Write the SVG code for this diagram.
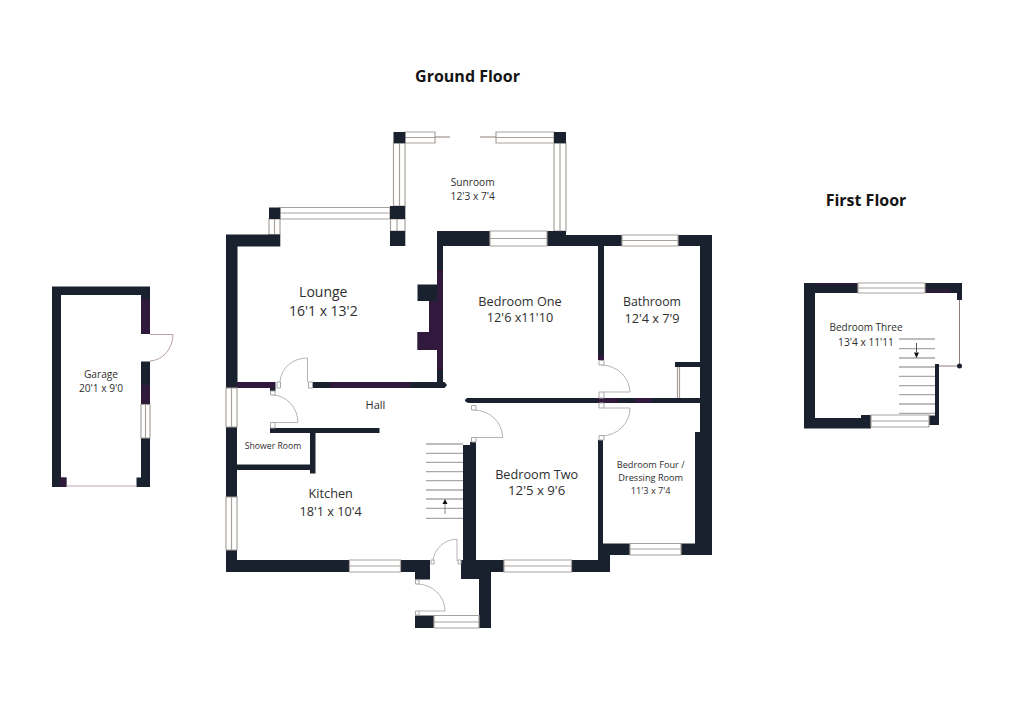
<svg xmlns="http://www.w3.org/2000/svg" width="1020" height="720" viewBox="0 0 1020 720">
<style>
.w{fill:#19202e}
.p{fill:#35193f}
.g{fill:#fff;stroke:#a9a29c;stroke-width:1.2}
.m{fill:none;stroke:#a9a29c;stroke-width:1.2}
.d{fill:none;stroke:#b5b5b5;stroke-width:1}
.s{fill:#fff;stroke:#a9a9a9;stroke-width:1}
.st{stroke:#a8a8a8;stroke-width:1.3;fill:none}
.b{stroke:#8d7f78;stroke-width:1;fill:none}
text{font-family:"Open Sans","Noto Sans","Liberation Sans",sans-serif;fill:#2e2e2e;text-anchor:middle}
.t{font-size:16px;font-weight:700;fill:#141414}
.l{font-size:12.7px}
.n{font-size:10.2px}
.x{font-size:9.2px}
</style>
<rect width="1020" height="720" fill="#fff"/>
<g id="sunroom">
<path class="g" d="M405 132H435V143H405ZM496 132H554V143H496ZM393.500 143H405V206H393.500ZM554 143H566V231H554ZM280 207.500H390V219H280ZM269 219H280V234.500H269ZM390.500 219H405V231H390.500Z"/>
<path class="m" d="M405 137.500H435M496 137.500H554M399.500 143V206M560 143V231M280 213H390M274.500 219V234.500M397 219V231"/>
<path class="b" d="M435 137H450M480 137H496"/>
<path class="w" d="M393.500 132H405.300V143.300H393.500ZM554 132H566V143.300H554ZM390 206H405.300V219H390ZM390 231H405.300V246H390ZM269 207.500H280.300V219H269Z"/>
</g>
<g id="ground-walls">
<path class="w" d="M226 234.500H280.300V246.500H237.500V388H226ZM437 231H490V246H443V382H444.500L447 385L444.500 388H312.500V382H437ZM547 231H566V235H622V246H547ZM678 235H712V555H681V543.500H695V432H700V246H678ZM598 246H604V360H598ZM675 362H700V367H675ZM417.500 284.500H437V350H417.500V332H429V301H417.500ZM237 382H275.500V391H270V388H237ZM270 428H379.500V433H315.500V473.500H310V470H237V497H226V427H237V464.500H310V433H270ZM226 550H237V560H349.500V572H226ZM400.500 560H430V579.500H415V572H400.500ZM461 560H463V445H470V442H476V560H504V572H491V628H479V579H461ZM415 615.500H434V628H415ZM467 398H702V403H469Q465 402 465 400.500Q465 399 467 398ZM598 440H603V543.500H630V555H610V572H571.500V560H598Z"/>
<path class="p" d="M429 301H437V350H417.500V332H429ZM237 382H275V388H237ZM330 382H410V388H330ZM598 398H618V403H598ZM635 398H652V403H635ZM437 270H443V370H437ZM598 355H604V360H598Z" opacity=".85"/>
</g>
<g id="ground-windows">
<path class="g" d="M490 231H547V246H490ZM622 235H678V246H622ZM226 388H237V427H226ZM226 497H237V550H226ZM349.500 560H400.500V572H349.500ZM434 615.500H479V628H434ZM504 560H571.500V572H504ZM630 543.500H681V555H630Z"/>
<path class="m" d="M490 238.500H547M622 240.500H678M231.500 388V427M231.500 497V550M349.500 566H400.500M434 622H479M504 566H571.500M630 549H681M677.500 367V398M679.500 367V398"/>
</g>
<g id="ground-doors">
<path class="d" d="M307.500 382V358A27 25 0 0 0 280 382M272.500 395A26 28 0 0 1 298 422.500H275M457 561V539A25 24 0 0 0 433 561M417 584A28 27 0 0 1 445 611H419M601.500 365A29 28 0 0 1 630 392H604M630 408H604M630 408A29 28 0 0 1 601.500 436M474 410A29 28 0 0 1 502.700 437.500H476"/>
<path class="s" d="M277 382H280.500V388H277ZM308.500 382H312.500V388H308.500ZM270.500 391H275V395H270.500ZM270.500 422.500H275V428H270.500ZM431 560H434V564H431ZM458 560H461V564H458ZM415.500 580H419V584H415.500ZM415.500 611H419V615H415.500ZM599 360.500H604V365H599ZM599 392H604V398H599ZM599 403H604V408H599ZM599 435.500H604V440H599ZM471.500 405.500H476V410H471.500ZM471.500 437.500H476V442H471.500Z"/>
</g>
<g id="ground-stairs">
<path class="st" d="M426 444H463M426 453.300H463M426 462.300H463M426 471.700H463M426 480.700H463M426 490H463M426 499H463M426 508.300H463M426 518.300H463"/>
<path d="M445 514V503" stroke="#888" stroke-width="1" fill="none"/>
<path d="M445 499L447.500 504H442.500Z" fill="#111"/>
</g>
<g id="garage">
<path class="w" d="M52 286.500H150V334H141V295H61V477.500H66.500V487H52ZM141 361.500H150V404.500H141ZM141 438H150V487H136.500V477.500H141Z"/>
<path class="p" d="M141 299H150V334H141ZM141 385H150V404.500H141ZM60 477.500H66.500V487H60Z" opacity=".8"/>
<path class="g" d="M141 404.500H150V438H141Z"/>
<path class="m" d="M145.500 404.500V438"/>
<path d="M66.500 486H136.500" stroke="#b9a9b6" stroke-width="1" fill="none"/>
<path d="M150 334.500H173A24 27 0 0 1 150 361" stroke="#b79fae" stroke-width="1" fill="none"/>
</g>
<g id="first-floor">
<path class="w" d="M804 283H858V293H815V418H861V415H871V428.500H804ZM925 283H962V300H957V293H925ZM929 415.500H935V364H939V425H929Z"/>
<path class="p" d="M815 283H858V285H815ZM925 289H950V293H925Z" opacity=".7"/>
<path class="g" d="M858 283H925V293H858ZM871 415H929V427H871Z"/>
<path class="m" d="M858 288H925M871 421H929"/>
<path class="b" d="M959.500 300V365M939 366H957" stroke="#a9a29c"/>
<circle cx="959.500" cy="366" r="2.500" fill="#19202e"/>
<path class="st" d="M899 339H935M899 348.700H935M899 358H935M899 367H935M899 376.300H935M899 385.700H935M899 394.700H935M899 404H935M899 413.300H935"/>
<path d="M916.500 343V352" stroke="#555" stroke-width="1" fill="none"/>
<path d="M916.500 358L914 352.500H919Z" fill="#111"/>
</g>
<g id="labels">
<text class="t" x="467.500" y="81.500">Ground Floor</text>
<text class="t" x="866" y="206">First Floor</text>
<text class="n" x="472.700" y="186">Sunroom</text>
<text class="n" x="472.700" y="200">12'3 x 7'4</text>
<text class="l" x="520" y="305.700">Bedroom One</text>
<text class="l" x="520" y="322">12'6 x11'10</text>
<text class="l" x="652" y="306" font-size="12.300" style="font-size:12.300px">Bathroom</text>
<text class="l" x="652" y="322.700">12'4 x 7'9</text>
<text class="l" x="323.300" y="297.300" style="font-size:14px">Lounge</text>
<text class="l" x="323.300" y="315.700" style="font-size:14px">16'1 x 13'2</text>
<text class="n" x="375.500" y="409.300" style="font-size:11px">Hall</text>
<text class="x" x="273" y="449.300" style="font-size:8.700px">Shower Room</text>
<text class="l" x="330.700" y="498.300">Kitchen</text>
<text class="l" x="330.700" y="515.700">18'1 x 10'4</text>
<text class="l" x="536.700" y="478.700">Bedroom Two</text>
<text class="l" x="536.700" y="495.300" style="font-size:13.200px">12'5 x 9'6</text>
<text class="x" x="650.700" y="467.700">Bedroom Four /</text>
<text class="x" x="650.700" y="481.300">Dressing Room</text>
<text class="x" x="650.700" y="494.300">11'3 x 7'4</text>
<text class="n" x="101" y="378.300">Garage</text>
<text class="n" x="101" y="392.300">20'1 x 9'0</text>
<text class="n" x="866" y="331" style="font-size:10px">Bedroom Three</text>
<text class="n" x="866" y="346">13'4 x 11'11</text>
</g>
</svg>
